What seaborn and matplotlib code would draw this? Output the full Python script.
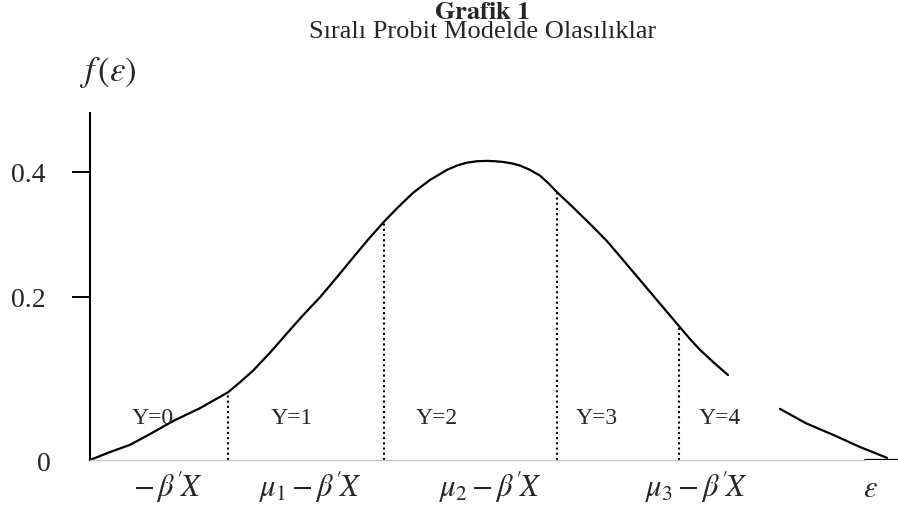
"""
Grafik 1 - ordered probit model: density with category cut points.
"""

import matplotlib
matplotlib.use("Agg")
import matplotlib.pyplot as plt
import seaborn as sns

# density curve, left part (before the small gap near Y=4)
curve_left_x = [0.00, 0.20, 0.40, 0.60, 0.83, 1.10, 1.38, 1.50, 1.63, 1.80, 1.97, 2.13, 2.30,
                2.47, 2.63, 2.78, 2.94, 3.08, 3.23, 3.40, 3.57, 3.67, 3.77, 3.87, 3.97,
                4.05, 4.13, 4.22, 4.30, 4.40, 4.50, 4.58, 4.67, 4.83, 5.00, 5.17, 5.33,
                5.50, 5.67, 5.78, 5.89, 6.00, 6.10, 6.24, 6.38]
curve_left_y = [0.000, 0.011, 0.021, 0.036, 0.054, 0.072, 0.094, 0.108, 0.124, 0.149, 0.176, 0.201, 0.226,
                0.254, 0.281, 0.306, 0.331, 0.351, 0.371, 0.389, 0.403, 0.409, 0.413, 0.415, 0.4155,
                0.415, 0.414, 0.412, 0.409, 0.403, 0.395, 0.385, 0.372, 0.351, 0.328, 0.304, 0.278,
                0.250, 0.222, 0.204, 0.186, 0.168, 0.153, 0.135, 0.118]
# right tail after the gap
curve_right_x = [6.90, 7.16, 7.43, 7.70, 7.97]
curve_right_y = [0.071, 0.051, 0.035, 0.018, 0.003]

# cut points (dotted lines) and curve height there
cut_x = [1.38, 2.94, 4.67, 5.89]
cut_h = [0.094, 0.331, 0.372, 0.186]

# category labels
cat_labels = ["Y=0", "Y=1", "Y=2", "Y=3", "Y=4"]
cat_x = [0.63, 2.02, 3.47, 5.07, 6.30]
cat_y = 0.058

# x axis labels
xlab_text = [r"$-\,\beta^{\prime}\!X$", r"$\mu_1-\beta^{\prime}\!X$", r"$\mu_2-\beta^{\prime}\!X$",
             r"$\mu_3-\beta^{\prime}\!X$", r"$\varepsilon$"]
xlab_x = [0.78, 2.20, 4.00, 6.06, 7.80]

# y ticks (the original axis is hand drawn, 0.2 sits a bit high)
ytick_pos = [0.226, 0.4]
ytick_labels = ["0.2", "0.4"]

# short black piece of the base line at the far right
tail_x = [7.75, 8.08]
tail_y = [0, 0]

sns.set_style("white")
plt.rcParams["font.family"] = ["Liberation Serif", "DejaVu Serif"]
plt.rcParams["mathtext.fontset"] = "stix"

fig = plt.figure(figsize=(8.98, 5.12), dpi=100)
ax = fig.add_axes([0.1002, 0.1016, 0.8998, 0.6777])

sns.lineplot(x=curve_left_x, y=curve_left_y, sort=False, estimator=None,
             color="black", linewidth=1.6, ax=ax)
sns.lineplot(x=curve_right_x, y=curve_right_y, sort=False, estimator=None,
             color="black", linewidth=1.6, ax=ax)
ax.vlines(cut_x, 0, cut_h, colors="black", linestyles=(0, (1, 1.5)), linewidth=1.5)
sns.lineplot(x=tail_x, y=tail_y, color="black", linewidth=1.6, ax=ax)

for lab, xx in zip(cat_labels, cat_x):
    ax.text(xx, cat_y, lab, ha="center", va="center", fontsize=17)

for lab, xx in zip(xlab_text, xlab_x):
    ax.text(xx, -0.051, lab, ha="center", va="baseline", fontsize=22, clip_on=False)

ax.text(-0.46, -0.006, "0", ha="center", va="center", fontsize=20, clip_on=False)

ax.set_xlim(0, 8.08)
ax.set_ylim(0, 0.482)
ax.set_xticks([])
ax.set_yticks(ytick_pos)
ax.set_yticklabels(ytick_labels, fontsize=20)
ax.tick_params(axis="y", direction="out", length=13, width=1.4, pad=19, color="black", left=True)

sns.despine(ax=ax, top=True, right=True)
ax.spines["left"].set_color("black")
ax.spines["left"].set_linewidth(1.5)
ax.spines["bottom"].set_color("#c8c8c8")
ax.spines["bottom"].set_linewidth(1.0)
ax.spines["bottom"].set_bounds(0, 7.75)

# title block: bold first line, plain second line
fig.text(0.537, 0.996, r"$\mathbf{Grafik\ 1}$" + "\nSıralı Probit Modelde Olasılıklar",
         ha="center", va="top", multialignment="center", fontsize=19, linespacing=0.85)
fig.text(0.120, 0.858, r"$f\,(\varepsilon)$", ha="center", va="center", fontsize=25)

fig.savefig("out.png", dpi=100)
